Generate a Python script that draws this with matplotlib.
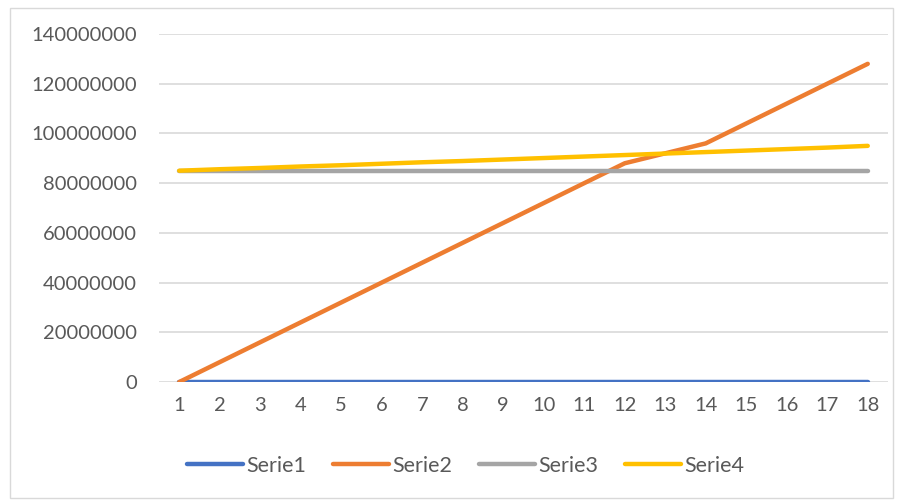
import matplotlib.pyplot as plt
from matplotlib.patches import Rectangle

plt.rcParams['font.family'] = ['Lato', 'DejaVu Sans']

# valeurs des séries
x = list(range(1, 19))
serie1 = [0] * 18
serie2 = [0, 8e6, 16e6, 24e6, 32e6, 40e6, 48e6, 56e6, 64e6, 72e6, 80e6, 88e6,
          92e6, 96e6, 104e6, 112e6, 120e6, 128e6]
serie3 = [85e6] * 18
serie4 = [85.0e6, 85.6e6, 86.1e6, 86.7e6, 87.2e6, 87.8e6, 88.4e6, 88.9e6, 89.5e6,
          90.1e6, 90.7e6, 91.3e6, 91.9e6, 92.5e6, 93.1e6, 93.7e6, 94.3e6, 95.0e6]
noms = ["Serie1", "Serie2", "Serie3", "Serie4"]
couleurs = ["#4472C4", "#ED7D31", "#A5A5A5", "#FFC000"]

fig = plt.figure(figsize=(9.03, 5.03), dpi=100)
ax = fig.add_axes([159 / 903, 1 - 382 / 503, (888 - 159) / 903, (382 - 34) / 503])

for serie, nom, c in zip([serie1, serie2, serie3, serie4], noms, couleurs):
    ax.plot(x, serie, color=c, lw=3.2, label=nom, solid_capstyle='round',
            solid_joinstyle='round')

ax.set_xlim(0.5, 18.5)
ax.set_ylim(0, 140e6)
ax.set_yticks(range(0, 140000001, 20000000))
ax.set_yticklabels([str(v) for v in range(0, 140000001, 20000000)])
ax.set_xticks(x)
ax.grid(axis='y', color='#D9D9D9', lw=1.2)
ax.set_axisbelow(True)
for s in ax.spines.values():
    s.set_visible(False)
ax.tick_params(length=0, labelsize=14.5, colors='#595959')
ax.tick_params(axis='y', pad=16)
ax.tick_params(axis='x', pad=11)

fig.legend(loc='center', bbox_to_anchor=(466 / 903, 1 - 466 / 503), ncol=4,
           frameon=False, fontsize=15.5, labelcolor='#595959', handlelength=2.6,
           handletextpad=0.15, columnspacing=1.25)

# cadre autour du graphique
fig.patches.append(Rectangle((10 / 903, 5 / 503), 883 / 903, 490 / 503,
                             transform=fig.transFigure, fill=False,
                             edgecolor='#D9D9D9', lw=1))

fig.savefig("out.png", dpi=100)
